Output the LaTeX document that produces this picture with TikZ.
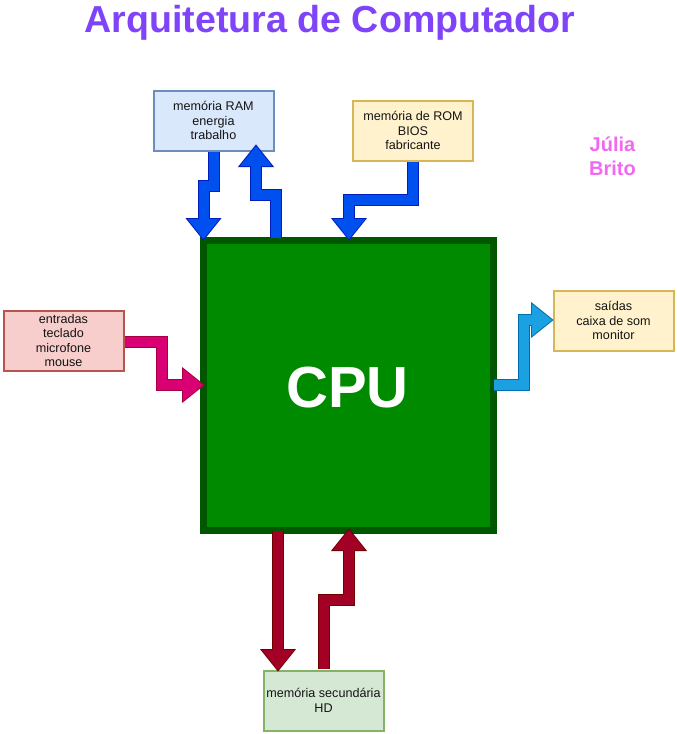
\documentclass[tikz,border=0pt]{standalone}
\usepackage{fontspec}
\setmainfont{Liberation Sans}
\definecolor{titlec}{RGB}{127,68,250}
\definecolor{authorc}{RGB}{240,105,240}
\definecolor{txt}{RGB}{20,20,20}
\definecolor{cpufill}{HTML}{008A00}
\definecolor{cpustroke}{HTML}{005700}
\definecolor{bluef}{HTML}{0050EF}
\definecolor{blues}{HTML}{001DBC}
\definecolor{pinkf}{HTML}{D80073}
\definecolor{pinks}{HTML}{A50040}
\definecolor{lbluef}{HTML}{1BA1E2}
\definecolor{lblues}{HTML}{006EAF}
\definecolor{redf}{HTML}{A20025}
\definecolor{reds}{HTML}{6F0000}
\definecolor{ramf}{HTML}{DAE8FC}
\definecolor{rams}{HTML}{6C8EBF}
\definecolor{romf}{HTML}{FFF2CC}
\definecolor{roms}{HTML}{D6B656}
\definecolor{inf}{HTML}{F8CECC}
\definecolor{ins}{HTML}{B85450}
\definecolor{hdf}{HTML}{D5E8D4}
\definecolor{hds}{HTML}{82B366}
% flex arrow: #1 fill, #2 stroke, #3 shaft path, #4 head triangle (open)
\newcommand\flexarr[4]{%
  \draw[#2, line width=12, line join=miter] #3;
  \filldraw[#2, line width=2, line join=miter] #4 -- cycle;
  \draw[#1, line width=10, line join=miter] #3;
  \fill[#1] #4 -- cycle;
}
\begin{document}
\begin{tikzpicture}[x=1pt,y=-1pt,
  infobox/.style={draw=#1, line width=2, minimum width=120, minimum height=60,
    inner sep=0, align=center, text=txt, font=\fontsize{12.6}{14.6}\selectfont},
]
\useasboundingbox (0,0) rectangle (677,734);
\node[anchor=base, text=titlec, font=\fontsize{37.6}{44}\selectfont\bfseries] (title) at (330,32) {Arquitetura de Computador};
\node[anchor=base, text=authorc, font=\fontsize{20}{24}\selectfont\bfseries] (julia) at (612.5,151) {Júlia};
\node[anchor=base, text=authorc, font=\fontsize{20}{24}\selectfont\bfseries] (brito) at (612.5,175) {Brito};

\node[infobox=rams, fill=ramf] (ram) at (213.5,120.5) {memória RAM\\energia\\trabalho};
\node[infobox=roms, fill=romf] (rom) at (413,130.5) {memória de ROM\\BIOS\\fabricante};
\node[infobox=ins, fill=inf] (in) at (63.5,340.5) {entradas\\teclado\\microfone\\mouse};
\node[infobox=roms, fill=romf] (out) at (613.5,320.5) {saídas\\caixa de som\\monitor};
\node[infobox=hds, fill=hdf] (hd) at (323.5,700.5) {memória secundária\\HD};

\node[draw=cpustroke, fill=cpufill, line width=7, minimum width=290, minimum height=290, inner sep=0] (cpu) at (348.5,385.5) {};
\node[anchor=base, text=white, font=\fontsize{58}{60}\selectfont\bfseries] (cputxt) at (347.5,407) {CPU};

% RAM -> CPU
\flexarr{bluef}{blues}{(213.5,152) -- (213.5,186) -- (203.5,186) -- (203.5,219)}{(187.5,219) -- (203.5,239) -- (219.5,219)}
% CPU -> RAM
\flexarr{bluef}{blues}{(276,238) -- (276,195) -- (256,195) -- (256,166)}{(240,166) -- (256,146) -- (272,166)}
% ROM -> CPU
\flexarr{bluef}{blues}{(413,162) -- (413,200) -- (349,200) -- (349,219)}{(333,219) -- (349,239) -- (365,219)}
% entradas -> CPU
\flexarr{pinkf}{pinks}{(125,342) -- (162,342) -- (162,385) -- (183,385)}{(183,369) -- (203,385) -- (183,401)}
% CPU -> saidas
\flexarr{lbluef}{lblues}{(494,385) -- (524,385) -- (524,320) -- (532,320)}{(532,304) -- (552,320) -- (532,336)}
% CPU -> HD
\flexarr{redf}{reds}{(278,531) -- (278,650)}{(262,650) -- (278,670) -- (294,650)}
% HD -> CPU
\flexarr{redf}{reds}{(323.5,669) -- (323.5,600) -- (349,600) -- (349,550)}{(333,550) -- (349,530) -- (365,550)}
\end{tikzpicture}
\end{document}
